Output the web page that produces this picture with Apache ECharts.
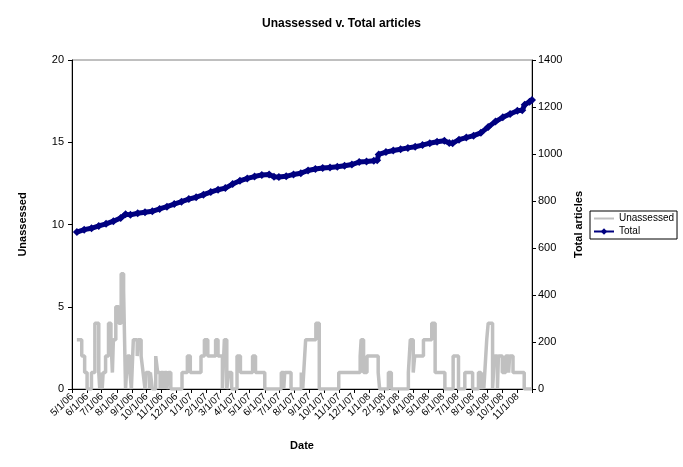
<!DOCTYPE html>
<html>
<head>
<meta charset="utf-8">
<script src="https://cdn.jsdelivr.net/npm/echarts@6/dist/echarts.min.js"></script>
<style>
html,body{margin:0;padding:0;background:#fff;}
#chart{width:683px;height:467px;}
</style>
</head>
<body>
<div id="chart"></div>
<script>
// ---- data ----
const startDate = [2006, 4, 1]; // day offsets below count from 5/1/06
const monthTickLabels = ['5/1/06','6/1/06','7/1/06','8/1/06','9/1/06','10/1/06','11/1/06','12/1/06',
  '1/1/07','2/1/07','3/1/07','4/1/07','5/1/07','6/1/07','7/1/07','8/1/07','9/1/07','10/1/07','11/1/07','12/1/07',
  '1/1/08','2/1/08','3/1/08','4/1/08','5/1/08','6/1/08','7/1/08','8/1/08','9/1/08','10/1/08','11/1/08'];
const axisEndLabel = '12/1/08';

// Unassessed: day offset where the value changes, and the new value
const unassessedDay = [10,20,26,31,40,47,55,57,59,62,64,69,75,80,83,85,90,96,101,106,110,114,119,122,126,134,136,142,146,150,
  152,159,161,165,172,176,181,183,188,190,195,198,203,226,237,243,265,272,279,295,300,309,313,318,322,328,339,346,371,377,
  396,430,435,437,450,471,474,476,480,501,508,548,592,594,599,606,629,632,650,656,691,695,701,704,722,739,746,766,783,794,
  807,823,835,840,843,846,848,852,855,864,866,868,874,876,884,891,897,899,906,929,945];
const unassessedVal = [3,2,1,0,1,4,1,0,1,0,1,2,4,3,1,3,5,4,7,6,0,2,1,0,3,2,3,2,1,0,
  1,0,1,0,2,1,0,1,0,1,0,1,0,1,2,1,2,3,2,3,2,0,3,0,1,0,2,1,2,1,
  0,1,0,1,0,1,0,1,3,4,0,1,2,3,1,2,1,0,1,0,1,3,1,2,3,4,1,0,2,0,
  1,0,1,0,1,0,1,3,4,0,1,2,0,2,1,2,1,2,1,0,0];

// Total articles
const totalDay = [10,25,40,55,70,85,100,110,120,135,150,165,180,195,210,225,240,255,270,285,300,315,330,345,360,375,390,405,415,425,
  440,455,470,485,500,515,530,545,560,575,590,605,620,627,630,645,660,675,690,705,720,735,750,765,775,782,795,810,825,840,
  855,870,885,900,915,925,930,940,945];
const totalVal = [668,678,684,694,703,714,728,744,741,748,752,756,766,776,787,797,808,816,827,838,848,855,872,886,896,904,911,913,903,902,
  905,913,918,930,936,940,943,946,950,955,966,968,971,973,998,1008,1015,1020,1026,1031,1038,1046,1052,1056,1047,1046,1061,1070,1078,1090,
  1115,1138,1156,1170,1184,1186,1210,1222,1230];

// ---- build ----
const baseTs = Date.UTC(startDate[0], startDate[1], startDate[2]);
function labelDay(s){ const p = s.split('/'); return Math.round((Date.UTC(2000 + (+p[2]), (+p[0]) - 1, +p[1]) - baseTs) / 86400000); }
const labelValues = monthTickLabels.map(labelDay);
const endDay = labelDay(axisEndLabel);
const tickValues = labelValues.concat([endDay]);
const labelMap = {};
monthTickLabels.forEach((s,i)=>{ labelMap[labelValues[i]] = s; });

const unassessedData = unassessedDay.map((d,i)=>[d, unassessedVal[i]]);
const totalData = totalDay.map((d,i)=>[d, totalVal[i]]);

const FONT = 'Liberation Sans, Arial, sans-serif';
const chart = echarts.init(document.getElementById('chart'), null, {renderer:'canvas'});
chart.setOption({
  animation: false,
  backgroundColor: '#fff',
  textStyle: {fontFamily: FONT, color: '#000'},
  title: {
    text: 'Unassessed v. Total articles',
    left: 'center', top: 13,
    textStyle: {fontFamily: FONT, fontSize: 12, fontWeight: 'bold', color: '#000'}
  },
  legend: {
    orient: 'vertical',
    left: 590, top: 211,
    padding: [2, 3, 2, 3],
    itemGap: 2,
    itemWidth: 20, itemHeight: 8,
    borderColor: '#000', borderWidth: 1, borderRadius: 0,
    textStyle: {fontFamily: FONT, fontSize: 10, color: '#000', lineHeight: 11},
    data: [{name: 'Unassessed', itemStyle: {opacity: 0}}, {name: 'Total'}]
  },
  grid: {
    left: 72, right: 151, top: 60, bottom: 78,
    show: true, borderColor: '#808080', borderWidth: 1
  },
  xAxis: {
    type: 'value',
    min: 0, max: endDay,
    name: 'Date', nameLocation: 'middle', nameGap: 51,
    nameTextStyle: {fontFamily: FONT, fontSize: 11, fontWeight: 'bold', color: '#000'},
    axisLine: {lineStyle: {color: '#000', width: 1}},
    axisTick: {show: true, length: 4, lineStyle: {color: '#000'}, customValues: tickValues},
    splitLine: {show: false},
    axisLabel: {
      rotate: 45, fontFamily: FONT, fontSize: 10, color: '#000', margin: 6,
      customValues: labelValues,
      formatter: v => labelMap[v] || ''
    }
  },
  yAxis: [{
    type: 'value', min: 0, max: 20, interval: 5, position: 'left',
    name: 'Unassessed', nameLocation: 'middle', nameGap: 44, nameRotate: 90,
    nameTextStyle: {fontFamily: FONT, fontSize: 11, fontWeight: 'bold', color: '#000'},
    axisLine: {show: true, lineStyle: {color: '#000'}},
    axisTick: {show: true, length: 4, lineStyle: {color: '#000'}},
    splitLine: {show: false},
    axisLabel: {fontFamily: FONT, fontSize: 11, color: '#000', margin: 8}
  }, {
    type: 'value', min: 0, max: 1400, interval: 200, position: 'right',
    name: 'Total articles', nameLocation: 'middle', nameGap: 28, nameRotate: 90,
    nameTextStyle: {fontFamily: FONT, fontSize: 11, fontWeight: 'bold', color: '#000'},
    axisLine: {show: true, lineStyle: {color: '#000'}},
    axisTick: {show: true, length: 4, lineStyle: {color: '#000'}},
    splitLine: {show: false},
    axisLabel: {fontFamily: FONT, fontSize: 11, color: '#000', margin: 6, formatter: v => String(v)}
  }],
  series: [{
    name: 'Unassessed', type: 'line', yAxisIndex: 0,
    step: 'end', data: unassessedData,
    showSymbol: false, symbol: 'none',
    lineStyle: {color: '#C0C0C0', width: 3.5},
    itemStyle: {color: '#C0C0C0'},
    z: 2
  }, {
    name: 'Total', type: 'line', yAxisIndex: 1,
    data: totalData,
    symbol: 'diamond', symbolSize: 8, showSymbol: true,
    lineStyle: {color: '#000080', width: 5},
    itemStyle: {color: '#000080', borderWidth: 0},
    z: 3
  }]
});
</script>
</body>
</html>
